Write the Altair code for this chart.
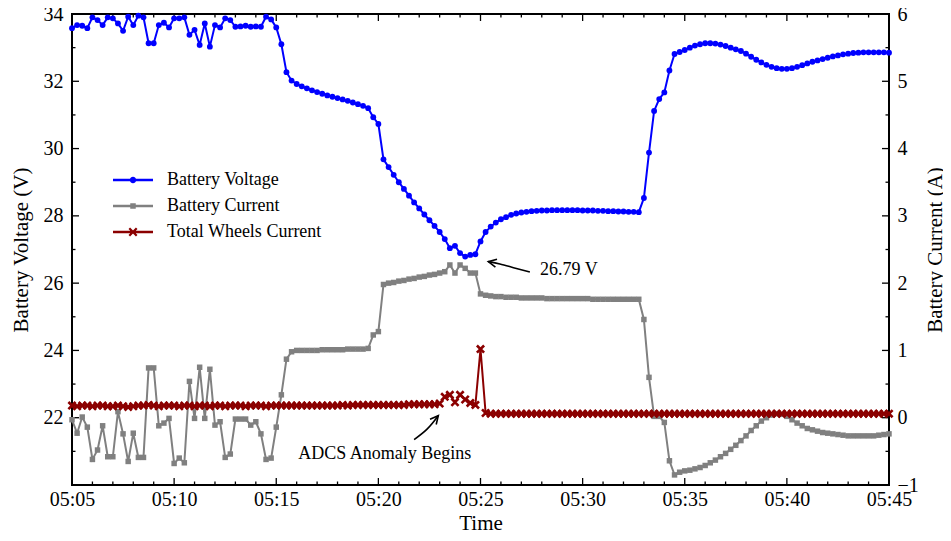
import math
import altair as alt
import pandas as pd

# ---------------- data (15 s sampling from 05:05 to 05:45) ----------------
voltage = [
    33.58, 33.67, 33.65, 33.58, 33.90, 33.82, 33.67, 33.90, 33.87, 33.72,
    33.50, 33.92, 33.67, 33.95, 33.90, 33.13, 33.13, 33.67, 33.74, 33.60,
    33.87, 33.87, 33.90, 33.38, 33.53, 33.08, 33.72, 33.03, 33.67, 33.60,
    33.87, 33.82, 33.62, 33.63, 33.65, 33.62, 33.63, 33.62, 33.92, 33.84,
    33.60, 33.10, 32.27, 32.02, 31.92, 31.85, 31.79, 31.73, 31.68, 31.63,
    31.58, 31.54, 31.50, 31.46, 31.42, 31.37, 31.32, 31.27, 31.20, 30.93,
    30.73, 29.68, 29.45, 29.22, 29.00, 28.80, 28.60, 28.40, 28.22, 28.04,
    27.87, 27.70, 27.52, 27.31, 27.04, 27.11, 26.89, 26.79, 26.84, 26.86,
    27.24, 27.52, 27.68, 27.80, 27.90, 27.96, 28.03, 28.07, 28.10, 28.12,
    28.14, 28.15, 28.16, 28.16, 28.17, 28.17, 28.17, 28.17, 28.17, 28.17,
    28.16, 28.16, 28.16, 28.15, 28.15, 28.14, 28.14, 28.13, 28.13, 28.12,
    28.12, 28.11, 28.53, 29.88, 31.12, 31.47, 31.67, 32.32, 32.81, 32.87,
    32.93, 33.00, 33.06, 33.10, 33.13, 33.13, 33.12, 33.09, 33.05, 33.00,
    32.95, 32.90, 32.82, 32.73, 32.64, 32.56, 32.49, 32.43, 32.39, 32.37,
    32.37, 32.39, 32.43, 32.48, 32.53, 32.58, 32.62, 32.66, 32.70, 32.74,
    32.77, 32.80, 32.82, 32.84, 32.85, 32.86, 32.86, 32.86, 32.86, 32.86,
    32.85,
]

battery_current = [
    -0.03, -0.23, 0.01, -0.14, -0.62, -0.48, -0.12, -0.58, -0.58, 0.09,
    -0.24, -0.65, -0.23, -0.59, -0.59, 0.74, 0.74, -0.12, -0.08, -0.01,
    -0.68, -0.60, -0.67, 0.54, -0.01, 0.75, -0.01, 0.72, -0.11, -0.06,
    -0.59, -0.54, -0.02, -0.02, -0.02, -0.11, -0.06, -0.24, -0.62, -0.60,
    -0.14, 0.34, 0.87, 0.98, 1.00, 1.00, 1.00, 1.00, 1.00, 1.01,
    1.01, 1.01, 1.01, 1.01, 1.02, 1.02, 1.02, 1.02, 1.03, 1.23,
    1.28, 1.98, 2.00, 2.01, 2.03, 2.04, 2.06, 2.07, 2.09, 2.10,
    2.12, 2.13, 2.15, 2.17, 2.27, 2.15, 2.27, 2.22, 2.15, 2.15,
    1.84, 1.82, 1.81, 1.80, 1.80, 1.79, 1.79, 1.79, 1.78, 1.78,
    1.78, 1.78, 1.78, 1.77, 1.77, 1.77, 1.77, 1.77, 1.77, 1.77,
    1.77, 1.77, 1.76, 1.76, 1.76, 1.76, 1.76, 1.76, 1.76, 1.76,
    1.76, 1.76, 1.46, 0.60, 0.02, 0.02, -0.07, -0.64, -0.85, -0.81,
    -0.79, -0.78, -0.76, -0.74, -0.71, -0.67, -0.63, -0.58, -0.53, -0.47,
    -0.41, -0.34, -0.27, -0.19, -0.12, -0.05, 0.00, 0.04, 0.06, 0.05,
    0.02, -0.03, -0.08, -0.12, -0.16, -0.18, -0.20, -0.22, -0.23, -0.24,
    -0.25, -0.26, -0.27, -0.27, -0.27, -0.27, -0.27, -0.27, -0.26, -0.25,
    -0.24,
]

wheels_current = [
    0.18, 0.17, 0.18, 0.18, 0.17, 0.18, 0.18, 0.17, 0.17, 0.18,
    0.17, 0.16, 0.17, 0.18, 0.18, 0.19, 0.18, 0.17, 0.18, 0.18,
    0.18, 0.17, 0.18, 0.18, 0.17, 0.18, 0.18, 0.17, 0.18, 0.18,
    0.17, 0.18, 0.18, 0.18, 0.17, 0.18, 0.18, 0.18, 0.17, 0.18,
    0.18, 0.18, 0.18, 0.18, 0.18, 0.18, 0.18, 0.18, 0.18, 0.18,
    0.18, 0.18, 0.18, 0.19, 0.18, 0.19, 0.19, 0.19, 0.19, 0.19,
    0.19, 0.19, 0.19, 0.19, 0.19, 0.19, 0.20, 0.20, 0.20, 0.20,
    0.20, 0.20, 0.21, 0.31, 0.34, 0.23, 0.34, 0.27, 0.22, 0.19,
    1.02, 0.07, 0.06, 0.06, 0.06, 0.06, 0.06, 0.06, 0.06, 0.06,
    0.06, 0.06, 0.06, 0.06, 0.06, 0.06, 0.06, 0.06, 0.06, 0.06,
    0.06, 0.06, 0.06, 0.06, 0.06, 0.06, 0.06, 0.06, 0.06, 0.06,
    0.06, 0.06, 0.06, 0.06, 0.06, 0.06, 0.06, 0.06, 0.06, 0.06,
    0.06, 0.06, 0.06, 0.06, 0.06, 0.06, 0.06, 0.06, 0.06, 0.06,
    0.06, 0.06, 0.06, 0.06, 0.06, 0.06, 0.06, 0.06, 0.06, 0.06,
    0.06, 0.06, 0.06, 0.06, 0.06, 0.06, 0.06, 0.06, 0.06, 0.06,
    0.06, 0.06, 0.06, 0.06, 0.06, 0.06, 0.06, 0.06, 0.06, 0.06,
    0.06,
]

series_names = ["Battery Voltage", "Battery Current", "Total Wheels Current"]
series_colors = ["#0000ff", "#808080", "#8b0000"]

volt_labels = [22, 24, 26, 28, 30, 32, 34]
volt_major = [22, 24, 26, 28, 30, 32]
volt_minor = [21, 23, 25, 27, 29, 31, 33]
curr_labels = [-1, 0, 1, 2, 3, 4, 5, 6]
curr_major = [0, 1, 2, 3, 4, 5]
curr_minor = [-0.5, 0.5, 1.5, 2.5, 3.5, 4.5, 5.5]
time_label_minutes = [5, 10, 15, 20, 25, 30, 35, 40, 45]
time_major_minutes = [10, 15, 20, 25, 30, 35, 40]
time_minor_minutes = [m for m in range(6, 45) if m % 5 != 0]

# annotations (time, voltage)
arrow1_t = ["05:27:25", "05:26:37", "05:25:57", "05:25:23"]
arrow1_v = [26.33, 26.46, 26.57, 26.64]
arrow2_t = ["05:21:45", "05:22:23", "05:22:56"]
arrow2_v = [21.35, 21.66, 22.06]
text1 = ("26.79 V", "05:27:55", 26.40)
text2 = ("ADCS Anomaly Begins", "05:20:19", 20.93)

# ---------------- layout ----------------
W, H = 817, 471
FONT = "Liberation Serif"
DAY = "2024-01-01T"


def dt(m):
    return alt.DateTime(year=2024, month=1, date=1, hours=5, minutes=m)


times = pd.date_range("2024-01-01 05:05:00", periods=len(voltage), freq="15s")
tstr = list(times.strftime("%Y-%m-%dT%H:%M:%S"))

df_v = pd.DataFrame({"t": tstr, "v": voltage})
df_c = pd.DataFrame({"t": tstr, "c": battery_current})
df_w = pd.DataFrame({"t": tstr, "w": wheels_current})

XS = alt.Scale(domain=[dt(5), dt(45)], nice=False)
VS = alt.Scale(domain=[20, 34], nice=False, zero=False)
CS = alt.Scale(domain=[-1, 6], nice=False, zero=False)

XAX = alt.Axis(values=[dt(m) for m in time_label_minutes], format="%H:%M", labelFlush=False,
               labelOverlap=False, ticks=False, tickSize=0, domain=False, grid=False,
               labelPadding=4, titlePadding=3)
VAX = alt.Axis(orient="left", values=volt_labels, format="d", labelFlush=False, labelOverlap=False,
               ticks=False, tickSize=0, domain=False, grid=False, labelPadding=9, titlePadding=12)
CAX = alt.Axis(orient="right", values=curr_labels, format="d", labelFlush=False, labelOverlap=False,
               ticks=False, tickSize=0, domain=False, grid=False, labelPadding=8, titlePadding=6,
               titleAngle=270, titleBaseline="top")

XT = "Time"
VT = "Battery Voltage (V)"
CT = "Battery Current (A)"


def X(field="t"):
    return alt.X(f"{field}:T", scale=XS, axis=XAX, title=XT)


def YV(field):
    return alt.Y(f"{field}:Q", scale=VS, axis=VAX, title=VT)


def YC(field):
    return alt.Y(f"{field}:Q", scale=CS, axis=CAX, title=CT)


# ---------------- symbol paths ----------------
def fmt(v):
    return f"{v:.3f}"


def rect_path(x0, y0, x1, y1):
    return f"M{fmt(x0)},{fmt(y0)}L{fmt(x1)},{fmt(y0)}L{fmt(x1)},{fmt(y1)}L{fmt(x0)},{fmt(y1)}Z"


def circle_path(r):
    return f"M{fmt(-r)},0A{fmt(r)},{fmt(r)} 0 1,1 {fmt(r)},0A{fmt(r)},{fmt(r)} 0 1,1 {fmt(-r)},0Z"


def rot_rect_path(a, b, theta):
    c, s = math.cos(theta), math.sin(theta)
    pts = [(-a, -b), (a, -b), (a, b), (-a, b)]
    pts = [(x * c - y * s, x * s + y * c) for x, y in pts]
    return "M" + "L".join(f"{fmt(x)},{fmt(y)}" for x, y in pts) + "Z"


def x_path(a, b):
    return rot_rect_path(a, b, math.pi / 4) + rot_rect_path(a, b, -math.pi / 4)


LINE = rect_path(-4, -0.25, 4, 0.25)
legend_shapes = [
    LINE + circle_path(0.65),
    LINE + rect_path(-0.55, -0.55, 0.55, 0.55),
    LINE + x_path(1.05, 0.22),
]
X_MARK = x_path(1.41, 0.36)
CHEVRON = "M-1,-0.5L0,0L-1,0.5"

# ---------------- tick layers ----------------
TL, TS, TW = 7, 3.5, 1.3


def tick_df(vals):
    return pd.DataFrame({"val": vals})


def time_df(mins):
    return pd.DataFrame({"t": [f"{DAY}05:{m:02d}:00" for m in mins]})


left_major = alt.Chart(tick_df(volt_major)).mark_rule(color="black", strokeWidth=TW).encode(
    y=YV("val"), x=alt.value(0), x2=alt.value(TL))
left_minor = alt.Chart(tick_df(volt_minor)).mark_rule(color="black", strokeWidth=TW).encode(
    y=YV("val"), x=alt.value(0), x2=alt.value(TS))
right_major = alt.Chart(tick_df(curr_major)).mark_rule(color="black", strokeWidth=TW).encode(
    y=YC("val"), x=alt.value(W), x2=alt.value(W - TL))
right_minor = alt.Chart(tick_df(curr_minor)).mark_rule(color="black", strokeWidth=TW).encode(
    y=YC("val"), x=alt.value(W), x2=alt.value(W - TS))
top_major = alt.Chart(time_df(time_major_minutes)).mark_rule(color="black", strokeWidth=TW).encode(
    x=X(), y=alt.value(0), y2=alt.value(TL))
top_minor = alt.Chart(time_df(time_minor_minutes)).mark_rule(color="black", strokeWidth=TW).encode(
    x=X(), y=alt.value(0), y2=alt.value(TS))
bot_major = alt.Chart(time_df(time_major_minutes)).mark_rule(color="black", strokeWidth=TW).encode(
    x=X(), y=alt.value(H), y2=alt.value(H - TL))
bot_minor = alt.Chart(time_df(time_minor_minutes)).mark_rule(color="black", strokeWidth=TW).encode(
    x=X(), y=alt.value(H), y2=alt.value(H - TS))

# ---------------- data layers ----------------
v_line = alt.Chart(df_v).mark_line(color=series_colors[0], strokeWidth=2).encode(x=X(), y=YV("v"))
v_pts = alt.Chart(df_v).mark_point(shape="circle", filled=True, opacity=1, size=34,
                                   color=series_colors[0]).encode(x=X(), y=YV("v"))
c_line = alt.Chart(df_c).mark_line(color=series_colors[1], strokeWidth=2).encode(x=X(), y=YC("c"))
c_pts = alt.Chart(df_c).mark_point(shape="square", filled=True, opacity=1, size=30,
                                   color=series_colors[1]).encode(x=X(), y=YC("c"))
w_line = alt.Chart(df_w).mark_line(color=series_colors[2], strokeWidth=2).encode(x=X(), y=YC("w"))
w_pts = alt.Chart(df_w).mark_point(shape=X_MARK, filled=True, opacity=1, size=52,
                                   color=series_colors[2]).encode(x=X(), y=YC("w"))

# ---------------- legend (from an invisible, clipped layer) ----------------
df_leg = pd.DataFrame({"series": series_names, "t": [tstr[0]] * 3, "v": [0, 0, 0]})
leg_props = dict(orient="none", legendX=41, legendY=157, title=None, labelFont=FONT,
                 labelFontSize=18, labelColor="black", symbolSize=100, symbolStrokeWidth=0,
                 symbolOffset=11, labelOffset=25, rowPadding=8, padding=0, labelLimit=0)
legend_layer = alt.Chart(df_leg).mark_point(filled=True, opacity=1, clip=True).encode(
    x=X(), y=YV("v"),
    color=alt.Color("series:N", scale=alt.Scale(domain=series_names, range=series_colors),
                    legend=alt.Legend(**leg_props)),
    shape=alt.Shape("series:N", scale=alt.Scale(domain=series_names, range=legend_shapes),
                    legend=alt.Legend(**leg_props)),
)


# ---------------- annotations ----------------
def to_px(t, v):
    hh, mm, ss = map(int, t.split(":"))
    minutes = hh * 60 + mm + ss / 60 - (5 * 60 + 5)
    return minutes / 40 * W, (34 - v) / 14 * H


def arrow(ts, vs):
    df = pd.DataFrame({"t": [DAY + t for t in ts], "v": vs, "o": list(range(len(ts)))})
    shaft = alt.Chart(df).mark_line(color="black", strokeWidth=1.6, interpolate="natural").encode(
        x=X(), y=YV("v"), order="o:Q")
    (x0, y0), (x1, y1) = to_px(ts[-2], vs[-2]), to_px(ts[-1], vs[-1])
    ang = math.degrees(math.atan2(y1 - y0, x1 - x0)) % 360
    head = alt.Chart(df.tail(1)).mark_point(shape=CHEVRON, filled=False, color="black",
                                            strokeWidth=1.6, size=260, angle=ang,
                                            opacity=1).encode(x=X(), y=YV("v"))
    return [shaft, head]


def label(txt, t, v, align):
    df = pd.DataFrame({"t": [DAY + t], "v": [v], "txt": [txt]})
    return alt.Chart(df).mark_text(font=FONT, fontSize=18, align=align, baseline="middle",
                                   color="black").encode(x=X(), y=YV("v"), text="txt:N")


annots = arrow(arrow1_t, arrow1_v) + arrow(arrow2_t, arrow2_v) + [
    label(text1[0], text1[1], text1[2], "left"),
    label(text2[0], text2[1], text2[2], "center"),
]

volt_group = alt.layer(left_major, left_minor, top_major, top_minor, bot_major, bot_minor,
                       v_line, v_pts, *annots, legend_layer)
curr_group = alt.layer(right_major, right_minor, c_line, c_pts, w_line, w_pts)

chart = alt.layer(volt_group, curr_group).resolve_scale(y="independent").properties(
    width=W, height=H,
    autosize=alt.AutoSizeParams(type="none"),
    padding={"left": 64, "top": 6, "right": 54, "bottom": 48},
).configure_view(stroke="black", strokeWidth=2).configure_axis(
    labelFont=FONT, labelFontSize=20, labelColor="black",
    titleFont=FONT, titleFontSize=21, titleFontWeight="normal", titleColor="black",
)

chart.save("out.html", embed_options={"renderer": "svg", "actions": False})
